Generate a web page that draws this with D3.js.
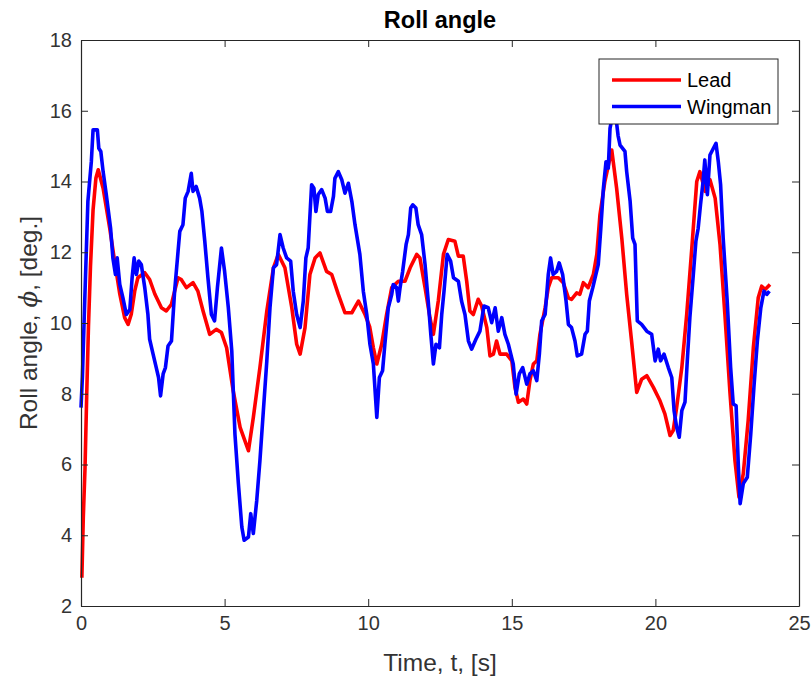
<!DOCTYPE html>
<html>
<head>
<meta charset="utf-8">
<script src="https://cdn.jsdelivr.net/npm/d3@7"></script>
<style>
  body { margin: 0; background: #fff; }
  svg { font-family: "Liberation Sans", Arial, Helvetica, sans-serif; }
  .tick text { fill: #333; }
</style>
</head>
<body>
<svg id="chart"></svg>
<script>
// values
var leadTime = [0.03,0.08,0.14,0.2,0.26,0.33,0.42,0.52,0.6,0.77,1.0,1.17,1.35,1.52,1.64,1.75,1.87,1.98,2.22,2.39,2.57,2.8,2.97,3.15,3.26,3.38,3.49,3.67,3.9,4.07,4.25,4.48,4.71,4.89,5.07,5.3,5.54,5.83,6.0,6.23,6.47,6.7,6.87,7.1,7.34,7.51,7.63,7.8,7.97,8.15,8.32,8.55,8.73,8.96,9.19,9.43,9.66,9.89,10.05,10.18,10.3,10.47,10.64,10.82,11.05,11.28,11.46,11.69,11.8,11.98,12.15,12.27,12.44,12.62,12.79,13.02,13.14,13.31,13.43,13.54,13.66,13.83,13.95,14.13,14.24,14.36,14.47,14.59,14.82,15.0,15.11,15.23,15.4,15.52,15.63,15.75,15.87,15.98,16.16,16.27,16.39,16.62,16.79,16.97,17.08,17.26,17.37,17.49,17.66,17.84,17.96,18.07,18.24,18.48,18.65,18.83,19.0,19.17,19.35,19.52,19.7,19.93,20.16,20.33,20.51,20.62,20.74,20.92,21.09,21.26,21.44,21.55,21.73,21.9,22.08,22.25,22.42,22.6,22.77,22.91,23.06,23.23,23.41,23.58,23.7,23.82,23.99];
var leadRoll = [2.8,4.5,5.9,8.0,9.9,11.6,13.2,14.1,14.33,13.81,12.68,11.75,10.82,10.15,9.96,10.25,10.9,11.28,11.42,11.23,10.82,10.43,10.34,10.53,10.9,11.28,11.23,11.0,11.14,10.9,10.34,9.68,9.82,9.73,9.3,8.08,7.05,6.39,7.33,8.74,10.34,11.56,11.94,11.56,10.43,9.4,9.12,9.87,11.37,11.84,11.98,11.46,11.37,10.81,10.29,10.29,10.62,10.24,9.9,9.3,8.84,9.4,10.24,11.0,11.18,11.18,11.56,11.94,11.84,11.0,10.15,9.68,10.62,11.94,12.36,12.31,11.89,11.89,11.18,10.34,10.24,10.67,10.48,9.87,9.07,9.12,9.49,9.12,9.12,8.93,8.18,7.76,7.85,7.71,8.37,8.84,8.93,9.68,10.43,11.0,11.28,11.28,11.14,10.71,10.67,10.85,10.81,11.14,11.0,11.37,11.94,13.06,14.0,14.89,13.81,12.4,10.81,9.49,8.04,8.41,8.51,8.18,7.8,7.43,6.82,6.96,7.61,8.74,10.24,12.03,14.0,14.28,13.72,14.05,13.53,12.22,10.24,7.99,6.11,5.08,5.74,7.24,9.3,10.71,11.04,10.95,11.09];

var wingTime = [0.0,0.05,0.13,0.24,0.36,0.42,0.57,0.62,0.69,0.77,0.88,0.94,1.03,1.11,1.2,1.26,1.35,1.46,1.58,1.7,1.78,1.85,1.93,2.01,2.1,2.22,2.33,2.39,2.51,2.62,2.7,2.77,2.86,2.94,3.03,3.15,3.26,3.38,3.44,3.55,3.63,3.73,3.84,3.9,4.01,4.13,4.21,4.31,4.42,4.54,4.65,4.75,4.89,5.0,5.13,5.25,5.36,5.48,5.6,5.68,5.83,5.91,6.0,6.12,6.23,6.35,6.47,6.58,6.7,6.81,6.93,7.04,7.16,7.3,7.39,7.51,7.63,7.74,7.83,7.91,8.03,8.11,8.18,8.26,8.38,8.5,8.58,8.69,8.79,8.84,8.96,9.08,9.19,9.31,9.43,9.54,9.71,9.83,9.95,10.06,10.18,10.3,10.39,10.5,10.58,10.7,10.82,10.87,10.99,11.05,11.11,11.2,11.32,11.4,11.48,11.55,11.66,11.74,11.86,11.98,12.09,12.18,12.27,12.36,12.48,12.56,12.64,12.75,12.87,12.97,13.14,13.25,13.37,13.49,13.6,13.75,13.89,14.03,14.18,14.3,14.42,14.53,14.65,14.76,14.88,15.05,15.15,15.26,15.38,15.52,15.63,15.75,15.87,15.96,16.04,16.16,16.27,16.35,16.44,16.56,16.65,16.77,16.89,16.97,17.08,17.2,17.28,17.43,17.55,17.63,17.7,17.82,17.9,18.01,18.1,18.19,18.28,18.36,18.42,18.5,18.62,18.7,18.77,18.94,19.0,19.12,19.21,19.29,19.37,19.52,19.7,19.87,19.99,20.1,20.18,20.3,20.45,20.57,20.65,20.74,20.83,20.92,21.03,21.11,21.2,21.32,21.41,21.49,21.57,21.66,21.72,21.81,21.9,22.02,22.11,22.19,22.27,22.36,22.5,22.62,22.71,22.81,22.89,22.95,23.06,23.2,23.32,23.43,23.55,23.67,23.78,23.88,23.97];
var wingRoll = [7.61,8.5,10.62,13.44,14.56,15.46,15.46,14.94,14.85,14.28,13.63,13.25,12.68,11.84,11.37,11.84,11.09,10.71,10.24,10.38,11.28,11.84,11.37,11.75,11.65,11.0,10.24,9.54,9.12,8.74,8.46,7.94,8.56,8.74,9.35,9.49,10.9,12.03,12.59,12.78,13.53,13.72,14.23,13.72,13.86,13.53,13.15,12.31,11.28,10.24,10.06,11.0,12.12,11.46,10.43,9.21,6.86,5.46,4.23,3.86,3.95,4.61,4.05,4.99,6.11,7.52,8.93,10.43,11.56,11.65,12.5,12.12,11.84,11.75,10.9,10.24,9.87,10.62,11.84,12.12,13.91,13.81,13.15,13.63,13.77,13.53,13.15,13.15,13.58,14.09,14.28,14.05,13.67,13.95,13.44,12.78,11.94,10.9,10.24,9.4,8.84,7.33,8.46,8.65,9.4,10.43,10.81,11.09,11.0,10.62,11.0,11.46,12.22,12.5,13.25,13.34,13.25,12.78,12.5,11.65,10.62,9.68,8.84,9.4,9.3,10.24,10.9,11.94,11.75,11.28,11.18,10.62,10.24,9.49,9.26,9.54,9.77,10.48,10.43,10.01,10.43,9.77,10.15,9.68,9.4,8.84,7.99,8.56,8.74,8.27,8.56,8.65,8.37,9.12,10.06,10.24,11.37,11.84,11.37,11.46,11.7,11.37,10.62,9.96,9.87,9.49,9.07,9.12,9.68,9.77,10.62,11.0,11.28,11.65,12.68,13.81,14.56,14.38,15.5,15.85,15.85,15.3,15.03,14.85,14.28,13.44,12.4,12.22,10.06,9.96,9.77,9.68,8.93,9.26,8.93,9.12,8.74,8.46,7.52,7.05,6.77,7.52,7.76,8.93,10.15,11.37,12.31,12.68,13.34,14.0,14.61,13.63,14.75,14.94,15.08,14.56,13.91,12.4,10.62,8.74,7.71,7.66,5.92,4.89,5.46,5.64,6.86,8.18,9.49,10.43,10.9,10.81,10.9];

var seriesNames = ["Lead", "Wingman"];
var seriesColors = ["#ff0000", "#0000ff"];
var xTicks = [0, 5, 10, 15, 20, 25];
var yTicks = [2, 4, 6, 8, 10, 12, 14, 16, 18];

var width = 812, height = 679;
var plotLeft = 81, plotTop = 40, plotRight = 799, plotBottom = 606;

var svg = d3.select("#chart")
    .attr("width", width)
    .attr("height", height);

var xScale = d3.scaleLinear().domain([0, 25]).range([plotLeft, plotRight]);
var yScale = d3.scaleLinear().domain([2, 18]).range([plotBottom, plotTop]);

var toPoints = function(times, values)
{
    return times.map(function(t, i) { return [t, values[i]]; });
};

var series = [toPoints(leadTime, leadRoll), toPoints(wingTime, wingRoll)];

var line = d3.line()
    .x(function(d) { return xScale(d[0]); })
    .y(function(d) { return yScale(d[1]); });

svg.append("g")
    .selectAll("path")
    .data(series)
    .enter()
    .append("path")
    .attr("d", line)
    .attr("fill", "none")
    .attr("stroke", function(d, i) { return seriesColors[i]; })
    .attr("stroke-width", 3.6)
    .attr("stroke-linejoin", "round");

// axes, ticks pointing inward like matlab
var styleAxis = function(g)
{
    g.attr("font-family", null);
    g.selectAll("path.domain").attr("stroke", "#262626").attr("stroke-width", 1.2);
    g.selectAll(".tick line").attr("stroke", "#262626");
    g.selectAll(".tick text").attr("font-size", 20);
};

svg.append("g")
    .attr("transform", "translate(0," + plotBottom + ")")
    .call(d3.axisBottom(xScale).tickValues(xTicks).tickSizeInner(-7).tickSizeOuter(0).tickPadding(10))
    .call(styleAxis);

svg.append("g")
    .attr("transform", "translate(0," + plotTop + ")")
    .call(d3.axisTop(xScale).tickValues(xTicks).tickSizeInner(-7).tickSizeOuter(0).tickFormat(""))
    .call(styleAxis);

svg.append("g")
    .attr("transform", "translate(" + plotLeft + ",0)")
    .call(d3.axisLeft(yScale).tickValues(yTicks).tickSizeInner(-7).tickSizeOuter(0).tickPadding(9))
    .call(styleAxis);

svg.append("g")
    .attr("transform", "translate(" + plotRight + ",0)")
    .call(d3.axisRight(yScale).tickValues(yTicks).tickSizeInner(-7).tickSizeOuter(0).tickFormat(""))
    .call(styleAxis);

// titles
svg.append("text")
    .attr("x", (plotLeft + plotRight) / 2)
    .attr("y", 28)
    .attr("text-anchor", "middle")
    .attr("font-size", 23.5)
    .attr("font-weight", "bold")
    .attr("fill", "#000")
    .text("Roll angle");

svg.append("text")
    .attr("x", (plotLeft + plotRight) / 2)
    .attr("y", 671)
    .attr("text-anchor", "middle")
    .attr("font-size", 24.5)
    .attr("fill", "#333")
    .text("Time, t, [s]");

var ylab = svg.append("text")
    .attr("transform", "translate(37," + (plotTop + plotBottom) / 2 + ") rotate(-90)")
    .attr("text-anchor", "middle")
    .attr("font-size", 24.5)
    .attr("fill", "#333");
ylab.append("tspan").text("Roll angle, ");
ylab.append("tspan").attr("font-style", "italic").attr("font-family", "DejaVu Serif, serif").text("\u03d5");
ylab.append("tspan").text(", [deg.]");

// legend
var legend = svg.append("g").attr("transform", "translate(599,59)");
legend.append("rect")
    .attr("width", 179)
    .attr("height", 65)
    .attr("fill", "#fff")
    .attr("stroke", "#262626")
    .attr("stroke-width", 1);

var item = legend.selectAll("g.item")
    .data(seriesNames)
    .enter()
    .append("g")
    .attr("class", "item")
    .attr("transform", function(d, i) { return "translate(0," + (21 + i * 26.5) + ")"; });

item.append("line")
    .attr("x1", 13).attr("x2", 82)
    .attr("stroke", function(d, i) { return seriesColors[i]; })
    .attr("stroke-width", 3.6);

item.append("text")
    .attr("x", 88)
    .attr("y", 7)
    .attr("font-size", 20)
    .attr("fill", "#000")
    .text(function(d) { return d; });
</script>
</body>
</html>
